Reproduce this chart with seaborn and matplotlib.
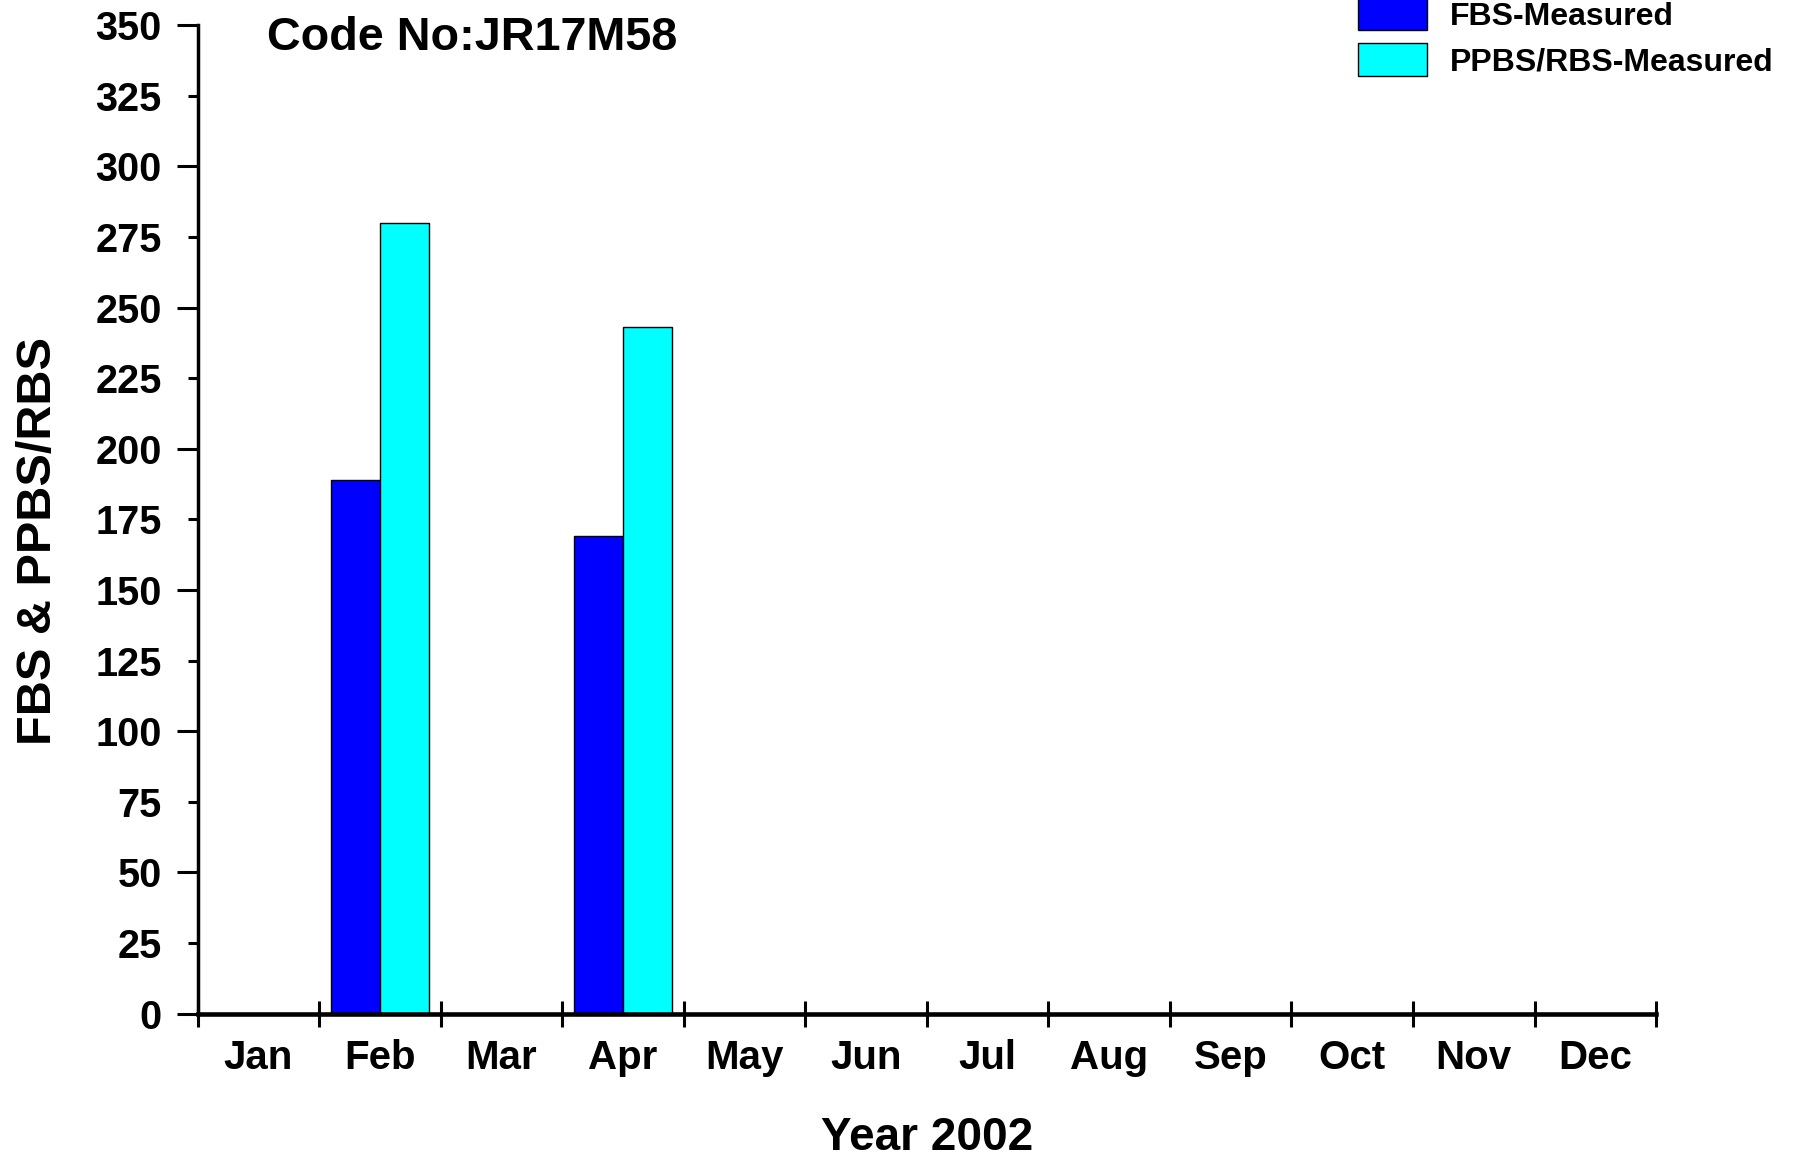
import matplotlib
matplotlib.use('Agg')
import matplotlib.pyplot as plt
import seaborn as sns
import pandas as pd
import numpy as np
from matplotlib.ticker import FixedLocator, FormatStrFormatter, NullFormatter, FixedFormatter

months = ['Jan', 'Feb', 'Mar', 'Apr', 'May', 'Jun', 'Jul', 'Aug', 'Sep', 'Oct', 'Nov', 'Dec']
fbs_values = [np.nan, 189, np.nan, 169, np.nan, np.nan, np.nan, np.nan, np.nan, np.nan, np.nan, np.nan]
ppbs_values = [np.nan, 280, np.nan, 243, np.nan, np.nan, np.nan, np.nan, np.nan, np.nan, np.nan, np.nan]
series_names = ['FBS-Measured', 'PPBS/RBS-Measured']
series_colors = ['#0000FF', '#00FFFF']
y_ticks_major = list(range(0, 351, 50))
y_ticks_minor = list(range(25, 351, 50))

sns.set_theme(style='white')
plt.rcParams['font.family'] = ['Liberation Sans', 'DejaVu Sans']
plt.rcParams['font.weight'] = 'bold'
plt.rcParams['axes.labelweight'] = 'bold'
plt.rcParams['text.color'] = 'black'
plt.rcParams['axes.labelcolor'] = 'black'
plt.rcParams['xtick.color'] = 'black'
plt.rcParams['ytick.color'] = 'black'
plt.rcParams['xtick.bottom'] = True
plt.rcParams['ytick.left'] = True

df = pd.DataFrame({
    'Month': months * 2,
    'Value': fbs_values + ppbs_values,
    'Series': [series_names[0]] * len(months) + [series_names[1]] * len(months),
})

fig = plt.figure(figsize=(18.02, 11.6), dpi=100)
ax = fig.add_axes([0.1097, 0.1262, 0.8093, 0.8520])
sns.barplot(data=df, x='Month', y='Value', hue='Series', order=months,
            hue_order=series_names, palette=series_colors, saturation=1,
            edgecolor='black', linewidth=1.0, width=0.8, errorbar=None, ax=ax)

ax.set_xlim(-0.5, 11.5)
ax.set_ylim(0, 350)

ax.xaxis.set_major_locator(FixedLocator(np.arange(-0.5, 12, 1)))
ax.xaxis.set_major_formatter(NullFormatter())
ax.xaxis.set_minor_locator(FixedLocator(np.arange(len(months))))
ax.xaxis.set_minor_formatter(FixedFormatter(months))
ax.tick_params(axis='x', which='major', bottom=True, direction='inout', length=19, width=2.2, color='black')
ax.tick_params(axis='x', which='minor', bottom=True, length=0, pad=18.5, labelsize=29, labelcolor='black')

ax.yaxis.set_major_locator(FixedLocator(y_ticks_major))
ax.yaxis.set_minor_locator(FixedLocator(y_ticks_minor))
ax.yaxis.set_major_formatter(FormatStrFormatter('%d'))
ax.yaxis.set_minor_formatter(FormatStrFormatter('%d'))
ax.tick_params(axis='y', which='major', direction='out', left=True, length=15, width=2.2, pad=11, labelsize=28.5, color='black', labelcolor='black')
ax.tick_params(axis='y', which='minor', direction='out', left=True, length=7.5, width=2.2, pad=18.5, labelsize=28.5, color='black', labelcolor='black')
for lab in ax.get_xticklabels(minor=True) + ax.get_yticklabels() + ax.get_yticklabels(minor=True):
    lab.set_fontweight('bold')

sns.despine(ax=ax)
ax.spines['left'].set_linewidth(2.5)
ax.spines['bottom'].set_linewidth(3.3)
ax.spines['left'].set_color('black')
ax.spines['bottom'].set_color('black')

ax.set_xlabel('Year 2002', fontsize=33, fontweight='bold', color='black')
ax.set_ylabel('FBS & PPBS/RBS', fontsize=35, fontweight='bold', color='black')
ax.xaxis.set_label_coords(0.5, -0.104)
ax.yaxis.set_label_coords(-0.094, 0.478)

handles, labels = ax.get_legend_handles_labels()
leg = ax.legend(handles, labels, loc='upper left', bbox_to_anchor=(0.7536, 1.002),
                bbox_transform=fig.transFigure, frameon=False,
                handlelength=2.16, handleheight=1.2, handletextpad=0.72,
                labelspacing=0.35, borderaxespad=0, borderpad=0,
                prop={'weight': 'bold', 'size': 23})
for t in leg.get_texts():
    t.set_color('black')

fig.text(267 / 1802, 1 - 50.5 / 1160, 'Code No:JR17M58', fontsize=33.7,
         fontweight='bold', va='baseline', ha='left', color='black')

fig.savefig('out.png', dpi=100, facecolor='white')
